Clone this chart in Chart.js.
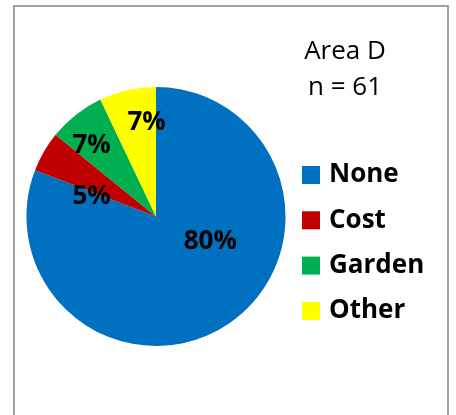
<!DOCTYPE html>
<html>
<head>
<meta charset="utf-8">
<script src="https://cdn.jsdelivr.net/npm/chart.js@4"></script>
<style>
  html, body { margin: 0; padding: 0; background: #fff; overflow: hidden; }
  #wrap { position: relative; width: 456px; height: 415px; }
  #frame {
    position: absolute; left: 13px; top: 5px; width: 436px; height: 430px;
    border: 2px solid #a0a0a0; box-sizing: border-box;
  }
  #chart { position: absolute; left: 0; top: 0; }
</style>
</head>
<body>
<div id="wrap">
  <div id="frame"></div>
  <canvas id="chart" width="456" height="415"></canvas>
</div>
<script>
// Area D responses (percent of n = 61)
const categories = ["None", "Cost", "Garden", "Other"];
const percents = [80, 5, 7, 7];
const titleLines = ["Area D", "n = 61"];

const sliceColors = ["#0070C0", "#C00000", "#00B050", "#FFFF00"];
// label placement inside each slice: shift from mid angle (deg) and radius fraction
const labelShift = [-31, -13, -4, 7];
const labelRadius = [0.46, 0.52, 0.74, 0.73];

const FONT = "'Open Sans', 'Noto Sans', sans-serif";

const sliceLabels = {
  id: "sliceLabels",
  afterDatasetsDraw(chart) {
    const ctx = chart.ctx;
    const meta = chart.getDatasetMeta(0);
    ctx.save();
    ctx.font = `bold 26px ${FONT}`;
    ctx.fillStyle = "#000";
    ctx.textAlign = "center";
    ctx.textBaseline = "middle";
    meta.data.forEach((arc, i) => {
      const { x, y, startAngle, endAngle, outerRadius } = arc.getProps(
        ["x", "y", "startAngle", "endAngle", "outerRadius"], true);
      const mid = (startAngle + endAngle) / 2 + (labelShift[i] * Math.PI) / 180;
      const r = outerRadius * labelRadius[i];
      ctx.fillText(percents[i] + "%", x + Math.cos(mid) * r, y + Math.sin(mid) * r);
    });
    ctx.restore();
  },
};

const sideText = {
  id: "sideText",
  afterDraw(chart) {
    const ctx = chart.ctx;
    ctx.save();
    ctx.textBaseline = "middle";
    // title
    ctx.font = `26px ${FONT}`;
    ctx.fillStyle = "#000";
    ctx.textAlign = "center";
    titleLines.forEach((t, i) => ctx.fillText(t, 345, 52 + i * 36));
    // legend
    ctx.textAlign = "left";
    ctx.font = `bold 26px ${FONT}`;
    chart.data.labels.forEach((label, i) => {
      const cy = 175 + i * 45.3;
      ctx.fillStyle = chart.data.datasets[0].backgroundColor[i];
      ctx.fillRect(302, cy - 9, 18, 18);
      ctx.fillStyle = "#000";
      ctx.fillText(label, 329, cy);
    });
    ctx.restore();
  },
};

new Chart(document.getElementById("chart"), {
  type: "pie",
  data: {
    labels: categories,
    datasets: [
      {
        data: percents,
        backgroundColor: sliceColors,
        borderWidth: 0,
      },
    ],
  },
  options: {
    responsive: false,
    animation: false,
    layout: { padding: { left: 26, right: 170, top: 87, bottom: 69 } },
    plugins: {
      legend: { display: false },
      title: { display: false },
      tooltip: { enabled: false },
    },
  },
  plugins: [sliceLabels, sideText],
});
</script>
</body>
</html>
